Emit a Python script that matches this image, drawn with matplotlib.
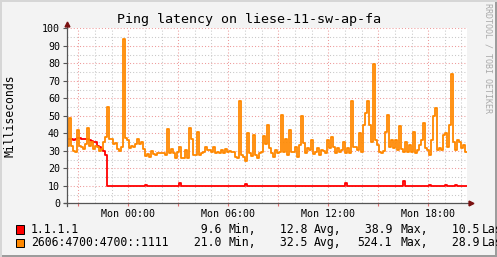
import numpy as np
import matplotlib
matplotlib.use("Agg")
import matplotlib.pyplot as plt
from matplotlib.patches import Rectangle
from matplotlib.ticker import MultipleLocator, FuncFormatter

# time axis: hours relative to Mon 00:00, one sample every 0.12 h
t_start = -3.67
t_end = 20.33
t_step = 0.12

# ping latency, ms
cf_v4 = [36.5, 36.5, 36.5, 36, 36.5, 37.5, 37.5, 37, 37, 36.5,
         36.5, 36, 35.5, 35, 35, 33, 32, 31, 30, 27.5] + [10] * 180
cf_v4_bumps = {39: 10.7, 56: 11.5, 89: 11, 139: 11.5, 168: 12.5,
               181: 10.5, 189: 10.5, 194: 10.6}

cf_v6 = [33, 48.5, 33, 30, 29.5, 42, 33, 32, 31, 34,
         43, 33, 35, 31, 33, 32, 30, 31, 35, 38,
         55, 37, 37, 34, 34.5, 31, 30, 32, 94, 37.5,
         36, 31.5, 33, 32, 34, 37, 34, 35, 31, 27,
         28, 26.5, 30, 28, 27.5, 29, 29, 28.5, 29, 27.5,
         42.5, 28.5, 31, 28.5, 25.7, 29.5, 32, 26, 26, 30.5,
         25.7, 43, 36.5, 27.6, 27.6, 40.5, 27.6, 28.5, 29.5, 32,
         30.5, 30.5, 29.5, 32, 28.5, 29.5, 28.5, 30.5, 29, 31,
         29.5, 30, 29.5, 29.5, 26.7, 26, 58.5, 27.6, 26.7, 24.2,
         40, 28.5, 27, 39, 27.6, 25.7, 28.5, 29.5, 38.5, 34,
         45, 31.4, 28.5, 26.7, 30.5, 28.5, 29.5, 50.5, 29.5, 36.6,
         27.6, 42, 29.5, 29.5, 32.4, 26.7, 33.3, 50, 34.3, 28.5,
         31.4, 30.5, 36.2, 28, 29.5, 31.4, 27.6, 30.5, 30, 28.5,
         36.2, 31.4, 38, 32.4, 28.5, 31.4, 29.5, 30.5, 35.2, 28.5,
         31.4, 28.5, 58.5, 32.4, 32.4, 30.5, 40, 29.5, 44.8, 51.4,
         58.5, 44.8, 35, 79.4, 36, 33.5, 29.5, 28.5, 30, 40.5,
         50.5, 32.4, 36.2, 31.4, 36.2, 30.5, 44, 31, 29.5, 35.2,
         29.5, 33.3, 29.5, 40.5, 28.5, 30.5, 33.3, 36.2, 45.7, 31.4,
         30.5, 27.6, 36.2, 50, 54.3, 30.5, 31.4, 30.5, 39, 40,
         32.4, 45, 73.7, 35.2, 30.5, 36.2, 35.2, 31.4, 33.3, 29.5]

names = ["1.1.1.1", "2606:4700:4700::1111"]
colors = ["#FF0000", "#FF8800"]
stat_min = [9.6, 21.0]
stat_avg = [12.8, 32.5]
stat_max = [38.9, 524.1]
stat_last = [10.5, 28.9]

title = "Ping latency on liese-11-sw-ap-fa"
mono = "DejaVu Sans Mono"

W, H = 497, 257


def fx(x):
    return x / W


def fy(y):
    return 1 - y / H


v4 = list(cf_v4)
for k, v in cf_v4_bumps.items():
    v4[k] = v

n = len(cf_v6)
t = t_start + t_step * np.arange(n + 1)
t[-1] = t_end

fig = plt.figure(figsize=(W / 100, H / 100), dpi=100, facecolor="#F3F3F3")
ax = fig.add_axes([fx(67), fy(203.3), 400 / W, 175 / H], facecolor="white")

ax.set_xlim(t_start, t_end)
ax.set_ylim(0, 100)

# grid: grey every 5 / 1 h, red every 10 / 3 h
ax.xaxis.set_major_locator(MultipleLocator(3))
ax.xaxis.set_minor_locator(MultipleLocator(1))
ax.yaxis.set_major_locator(MultipleLocator(10))
ax.yaxis.set_minor_locator(MultipleLocator(5))
ax.grid(which="minor", color="#C8C8C8", linestyle=(0, (1, 2)), linewidth=0.75)
ax.grid(which="major", color="#EE9A9A", linestyle=(0, (1, 2)), linewidth=0.75)
ax.set_axisbelow(True)


def xlab(h, pos):
    if round(h) % 6 == 0:
        return "Mon %02d:00" % round(h)
    return ""


ax.xaxis.set_major_formatter(FuncFormatter(xlab))
ax.tick_params(which="minor", length=0)
ax.tick_params(axis="y", which="major", length=3, width=0.8, color="#555555",
               pad=2, labelsize=7.2)
ax.tick_params(axis="x", which="major", length=2.2, width=0.8, color="#E07070",
               pad=1.6, labelsize=7.2)
for lab in ax.get_xticklabels() + ax.get_yticklabels():
    lab.set_family(mono)

for s in ax.spines.values():
    s.set_visible(False)

# data lines
ax.step(t, v4 + [v4[-1]], where="post", color=colors[0], lw=1.3, zorder=3)
ax.step(t, cf_v6 + [cf_v6[-1]], where="post", color=colors[1], lw=1.3, zorder=4)

# axis lines with arrows
ax.plot([-0.008, 1.01], [0, 0], transform=ax.transAxes, color="#555555",
        lw=0.9, clip_on=False, zorder=5)
ax.plot([0, 0], [-0.015, 1.02], transform=ax.transAxes, color="#555555",
        lw=0.9, clip_on=False, zorder=5)
ax.plot([1.011], [0], marker=">", ms=3.5, color="#7A1010", transform=ax.transAxes,
        clip_on=False, zorder=6)
ax.plot([0], [1.027], marker="^", ms=3.5, color="#7A1010", transform=ax.transAxes,
        clip_on=False, zorder=6)

# texts
fig.text(fx(249), fy(19), title, ha="center", va="center", fontsize=9.6,
         family=mono)
fig.text(fx(10), fy(115.8), "Milliseconds", rotation=90, ha="center",
         va="center", fontsize=8.3, family=mono)
fig.text(fx(488), fy(58), "RRDTOOL / TOBI OETIKER", rotation=270, ha="center",
         va="center", fontsize=6, color="#AAAAAA", family=mono)

# legend
rows_y = [229.5, 242.8]
col_x = [187, 273, 357.7, 445]
unit_x = [228.3, 313.3, 400.3, 482]
units = ["Min,", "Avg,", "Max,", "Last"]
for r in range(2):
    y = rows_y[r]
    fig.patches.append(Rectangle((fx(15.5), fy(y + 4.3)), 8.5 / W, 8.5 / H,
                                 facecolor=colors[r], edgecolor="black", lw=0.7,
                                 transform=fig.transFigure, figure=fig))
    fig.text(fx(30.7), fy(y), names[r], ha="left", va="center", fontsize=8.3,
             family=mono)
    vals = [stat_min[r], stat_avg[r], stat_max[r], stat_last[r]]
    for c in range(4):
        fig.text(fx(col_x[c]), fy(y), "%5.1f" % vals[c], ha="left", va="center",
                 fontsize=8.3, family=mono)
        fig.text(fx(unit_x[c]), fy(y), units[c], ha="left", va="center",
                 fontsize=8.3, family=mono)

# frame around the picture
fig.patches.append(Rectangle((0, 0), 1, 2 / H, facecolor="#9C9C9C", lw=0,
                             transform=fig.transFigure, figure=fig))
fig.patches.append(Rectangle((1 - 2 / W, 0), 2 / W, 1, facecolor="#9C9C9C", lw=0,
                             transform=fig.transFigure, figure=fig))
fig.patches.append(Rectangle((0, 1 - 2 / H), 1, 2 / H, facecolor="#D6D6D6", lw=0,
                             transform=fig.transFigure, figure=fig))
fig.patches.append(Rectangle((0, 0), 2 / W, 1, facecolor="#D6D6D6", lw=0,
                             transform=fig.transFigure, figure=fig))

fig.savefig("out.png", dpi=100, facecolor=fig.get_facecolor())
